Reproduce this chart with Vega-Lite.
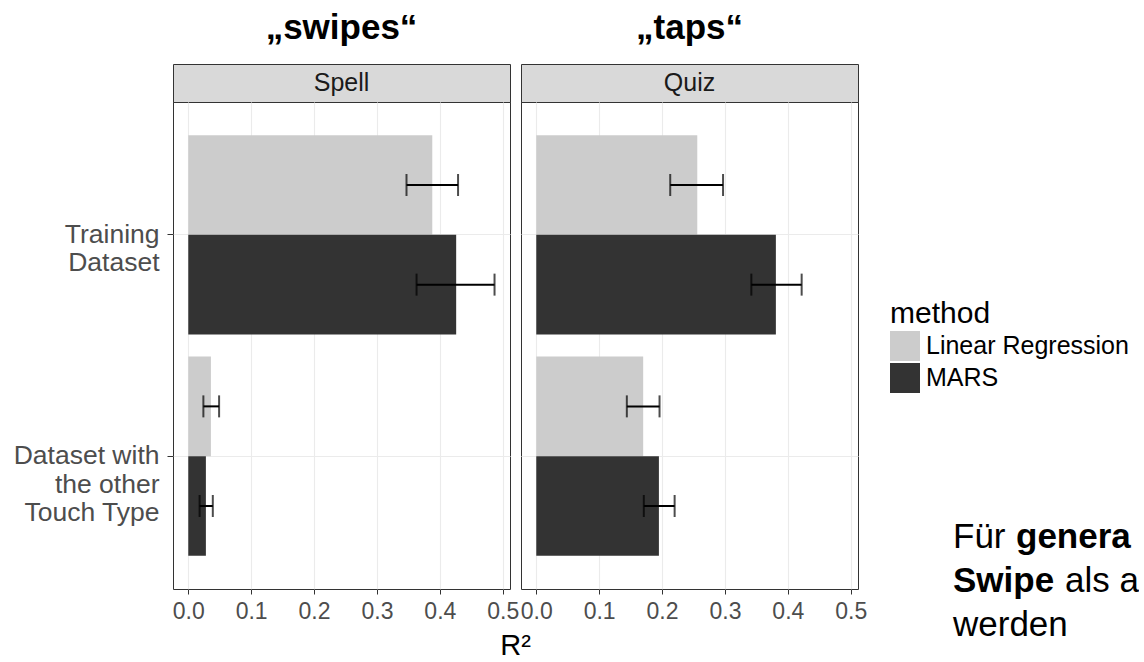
{
  "$schema": "https://vega.github.io/schema/vega-lite/v6.json",
  "padding": {"left": 12, "top": 10, "right": 0, "bottom": 0},
  "background": "white",
  "bounds": "flush",
  "align": "each",
  "columns": 3,
  "spacing": {"row": 0, "column": 11},
  "config": {
    "font": "Liberation Sans",
    "view": {"stroke": "#333333", "strokeWidth": 1}
  },
  "datasets": {
    "r2": [
      {"task": "Spell", "dataset": "Training Dataset", "method": "Linear Regression", "r2": 0.388, "lo": 0.347, "hi": 0.429},
      {"task": "Spell", "dataset": "Training Dataset", "method": "MARS", "r2": 0.426, "lo": 0.363, "hi": 0.487},
      {"task": "Spell", "dataset": "Dataset with the other Touch Type", "method": "Linear Regression", "r2": 0.036, "lo": 0.024, "hi": 0.049},
      {"task": "Spell", "dataset": "Dataset with the other Touch Type", "method": "MARS", "r2": 0.028, "lo": 0.018, "hi": 0.039},
      {"task": "Quiz", "dataset": "Training Dataset", "method": "Linear Regression", "r2": 0.256, "lo": 0.213, "hi": 0.297},
      {"task": "Quiz", "dataset": "Training Dataset", "method": "MARS", "r2": 0.381, "lo": 0.342, "hi": 0.422},
      {"task": "Quiz", "dataset": "Dataset with the other Touch Type", "method": "Linear Regression", "r2": 0.170, "lo": 0.144, "hi": 0.196},
      {"task": "Quiz", "dataset": "Dataset with the other Touch Type", "method": "MARS", "r2": 0.195, "lo": 0.171, "hi": 0.220}
    ],
    "note": [
      {"line": 1, "seg": 1, "weight": "normal", "text": "Für"},
      {"line": 1, "seg": 2, "weight": "bold", "text": "genera"},
      {"line": 2, "seg": 1, "weight": "bold", "text": "Swipe"},
      {"line": 2, "seg": 2, "weight": "normal", "text": "als a"},
      {"line": 3, "seg": 1, "weight": "normal", "text": "werden"}
    ]
  },
  "concat": [
    {
      "title": {"text": "„swipes“", "fontSize": 35, "fontWeight": "bold", "color": "black", "offset": 18, "anchor": "middle", "frame": "group"},
      "width": 337, "height": 38,
      "data": {"values": [{"panel": "Spell"}]},
      "mark": {"type": "text", "fontSize": 25, "color": "#1A1A1A"},
      "encoding": {"text": {"field": "panel"}},
      "view": {"fill": "#D9D9D9", "stroke": "#333333"}
    },
    {
      "title": {"text": "„taps“", "fontSize": 35, "fontWeight": "bold", "color": "black", "offset": 18, "anchor": "middle", "frame": "group"},
      "width": 337, "height": 38,
      "data": {"values": [{"panel": "Quiz"}]},
      "mark": {"type": "text", "fontSize": 25, "color": "#1A1A1A"},
      "encoding": {"text": {"field": "panel"}},
      "view": {"fill": "#D9D9D9", "stroke": "#333333"}
    },
    {
      "width": 268, "height": 38,
      "data": {"values": []},
      "mark": {"type": "text"},
      "encoding": {},
      "view": {"stroke": null}
    },
    {
      "width": 337, "height": 487,
      "data": {"name": "r2"},
      "transform": [{"filter": "datum.task === 'Spell'"}],
      "encoding": {
        "y": {"field": "dataset", "type": "nominal", "sort": ["Training Dataset", "Dataset with the other Touch Type"],
          "scale": {"paddingInner": 0.1, "paddingOuter": 0.15},
          "axis": {"title": null, "domain": false, "grid": true, "gridColor": "#EBEBEB", "gridWidth": 1.1, "bandPosition": 0.5,
            "ticks": true, "tickColor": "#333333", "tickSize": 6, "tickWidth": 1,
            "labelFontSize": 26.5, "labelColor": "#4D4D4D", "labelPadding": 8, "labelLineHeight": 28.5,
            "labelExpr": "datum.value == 'Training Dataset' ? ['Training', 'Dataset'] : ['Dataset with', 'the other', 'Touch Type']"}},
        "yOffset": {"field": "method", "type": "nominal", "sort": ["Linear Regression", "MARS"], "scale": {"paddingInner": 0, "paddingOuter": 0}}
      },
      "layer": [
        {
          "mark": {"type": "bar"},
          "encoding": {
            "x": {"field": "r2", "type": "quantitative",
              "scale": {"domain": [-0.0243, 0.5116], "nice": false, "zero": false},
              "axis": {"title": "R²", "titleX": 342, "titleFontSize": 29, "titleFontWeight": "normal", "titleColor": "black", "titlePadding": 8,
                "values": [0, 0.05, 0.1, 0.15, 0.2, 0.25, 0.3, 0.35, 0.4, 0.45, 0.5],
                "labelExpr": "abs(datum.value*10 - round(datum.value*10)) < 0.001 ? format(datum.value, '.1f') : ''",
                "grid": true, "gridColor": "#EBEBEB",
                "gridWidth": {"condition": {"test": "abs(datum.value*10 - round(datum.value*10)) < 0.001", "value": 1.1}, "value": 0.6},
                "tickOpacity": {"condition": {"test": "abs(datum.value*10 - round(datum.value*10)) < 0.001", "value": 1}, "value": 0},
                "tickColor": "#333333", "tickSize": 5, "tickWidth": 1,
                "labelFontSize": 23, "labelColor": "#4D4D4D", "labelPadding": 6, "labelFlush": false, "labelOverlap": false, "labelBound": false,
                "domain": false}},
            "x2": {"datum": 0},
            "color": {"field": "method", "type": "nominal",
              "scale": {"domain": ["Linear Regression", "MARS"], "range": ["#CCCCCC", "#333333"]},
              "legend": {"orient": "none", "legendX": 717, "legendY": 235, "title": "method", "titleFontSize": 30, "titleFontWeight": "normal", "titleColor": "black",
                "labelFontSize": 25, "labelColor": "black", "labelLimit": 400, "symbolType": "square", "symbolSize": 900, "symbolStrokeWidth": 0, "symbolOpacity": 1,
                "rowPadding": 2, "labelOffset": 6, "titlePadding": 2}}
          }
        },
        {
          "mark": {"type": "rule", "color": "black", "strokeWidth": 2},
          "encoding": {"x": {"field": "lo", "type": "quantitative"}, "x2": {"field": "hi"}}
        },
        {
          "mark": {"type": "tick", "color": "black", "thickness": 2, "size": 22},
          "encoding": {"x": {"field": "lo", "type": "quantitative"}}
        },
        {
          "mark": {"type": "tick", "color": "black", "thickness": 2, "size": 22},
          "encoding": {"x": {"field": "hi", "type": "quantitative"}}
        }
      ]
    },
    {
      "width": 337, "height": 487,
      "data": {"name": "r2"},
      "transform": [{"filter": "datum.task === 'Quiz'"}],
      "encoding": {
        "y": {"field": "dataset", "type": "nominal", "sort": ["Training Dataset", "Dataset with the other Touch Type"],
          "scale": {"paddingInner": 0.1, "paddingOuter": 0.15},
          "axis": {"title": null, "domain": false, "grid": true, "gridColor": "#EBEBEB", "gridWidth": 1.1, "bandPosition": 0.5,
            "ticks": false, "labels": false}},
        "yOffset": {"field": "method", "type": "nominal", "sort": ["Linear Regression", "MARS"], "scale": {"paddingInner": 0, "paddingOuter": 0}}
      },
      "layer": [
        {
          "mark": {"type": "bar"},
          "encoding": {
            "x": {"field": "r2", "type": "quantitative",
              "scale": {"domain": [-0.0243, 0.5116], "nice": false, "zero": false},
              "axis": {"title": null,
                "values": [0, 0.05, 0.1, 0.15, 0.2, 0.25, 0.3, 0.35, 0.4, 0.45, 0.5],
                "labelExpr": "abs(datum.value*10 - round(datum.value*10)) < 0.001 ? format(datum.value, '.1f') : ''",
                "grid": true, "gridColor": "#EBEBEB",
                "gridWidth": {"condition": {"test": "abs(datum.value*10 - round(datum.value*10)) < 0.001", "value": 1.1}, "value": 0.6},
                "tickOpacity": {"condition": {"test": "abs(datum.value*10 - round(datum.value*10)) < 0.001", "value": 1}, "value": 0},
                "tickColor": "#333333", "tickSize": 5, "tickWidth": 1,
                "labelFontSize": 23, "labelColor": "#4D4D4D", "labelPadding": 6, "labelFlush": false, "labelOverlap": false, "labelBound": false,
                "domain": false}},
            "x2": {"datum": 0},
            "color": {"field": "method", "type": "nominal",
              "scale": {"domain": ["Linear Regression", "MARS"], "range": ["#CCCCCC", "#333333"]},
              "legend": {"orient": "none", "legendX": 717, "legendY": 235, "title": "method", "titleFontSize": 30, "titleFontWeight": "normal", "titleColor": "black",
                "labelFontSize": 25, "labelColor": "black", "labelLimit": 400, "symbolType": "square", "symbolSize": 900, "symbolStrokeWidth": 0, "symbolOpacity": 1,
                "rowPadding": 2, "labelOffset": 6, "titlePadding": 2}}
          }
        },
        {
          "mark": {"type": "rule", "color": "black", "strokeWidth": 2},
          "encoding": {"x": {"field": "lo", "type": "quantitative"}, "x2": {"field": "hi"}}
        },
        {
          "mark": {"type": "tick", "color": "black", "thickness": 2, "size": 22},
          "encoding": {"x": {"field": "lo", "type": "quantitative"}}
        },
        {
          "mark": {"type": "tick", "color": "black", "thickness": 2, "size": 22},
          "encoding": {"x": {"field": "hi", "type": "quantitative"}}
        }
      ]
    },
    {
      "width": 268, "height": 528,
      "view": {"stroke": null},
      "data": {"name": "note"},
      "encoding": {
        "y": {"field": "line", "type": "quantitative", "scale": {"domain": [-9, 3], "reverse": true, "nice": false, "zero": false}, "axis": null},
        "x": {"datum": 0, "type": "quantitative", "scale": {"domain": [-84, 184], "nice": false, "zero": false}, "axis": null},
        "text": {"field": "text"}
      },
      "layer": [
        {"transform": [{"filter": "datum.seg == 1 && datum.weight == 'normal'"}],
         "mark": {"type": "text", "align": "left", "baseline": "alphabetic", "fontSize": 35, "color": "black", "dy": 6}},
        {"transform": [{"filter": "datum.seg == 1 && datum.weight == 'bold'"}],
         "mark": {"type": "text", "align": "left", "baseline": "alphabetic", "fontSize": 35, "fontWeight": "bold", "color": "black", "dy": 6}},
        {"transform": [{"filter": "datum.seg == 2 && datum.weight == 'bold'"}],
         "mark": {"type": "text", "align": "left", "baseline": "alphabetic", "fontSize": 35, "fontWeight": "bold", "color": "black", "dx": 63, "dy": 6}},
        {"transform": [{"filter": "datum.seg == 2 && datum.weight == 'normal'"}],
         "mark": {"type": "text", "align": "left", "baseline": "alphabetic", "fontSize": 35, "color": "black", "dx": 112, "dy": 6}}
      ]
    }
  ]
}
